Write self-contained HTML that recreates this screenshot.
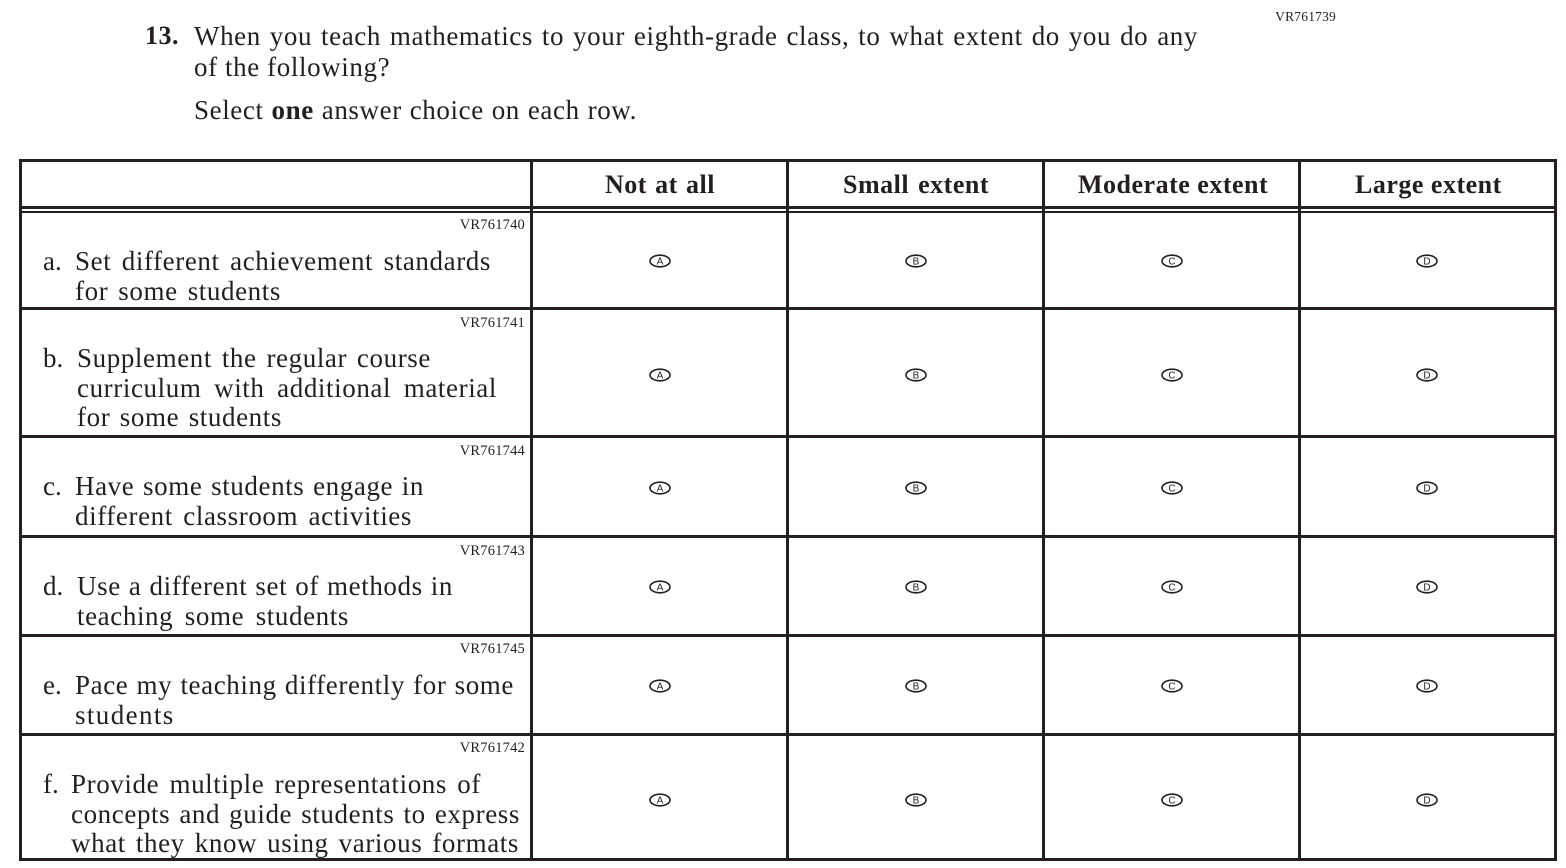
<!DOCTYPE html>
<html>
<head>
<meta charset="utf-8">
<style>
  html, body { margin:0; padding:0; background:#fff; }
  body { width:1566px; height:868px; position:relative; overflow:hidden;
         font-family:"Liberation Serif", serif; color:#231f20; }
  .t { position:absolute; font-size:27px; line-height:30px; letter-spacing:0.6px;
       white-space:nowrap; text-align:justify; text-align-last:justify; }
  .h { position:absolute; font-size:26px; line-height:30px; font-weight:bold; letter-spacing:0.5px;
       white-space:nowrap; text-align:justify; text-align-last:justify; }
  .vr { position:absolute; font-size:14.5px; line-height:16px; letter-spacing:0.2px;
        white-space:nowrap; text-align:right; width:140px; }
  .lbl { position:absolute; font-size:27px; line-height:30px; left:43px; white-space:nowrap; }
  svg { position:absolute; left:0; top:0; }
</style>
</head>
<body>

<svg width="1566" height="868" viewBox="0 0 1566 868">
  <g fill="#231f20">
    <rect x="19" y="159" width="1538" height="3"/>
    <rect x="19" y="206" width="1538" height="3"/>
    <rect x="19" y="211" width="1538" height="2"/>
    <rect x="19" y="307" width="1538" height="3"/>
    <rect x="19" y="435" width="1538" height="3"/>
    <rect x="19" y="535" width="1538" height="3"/>
    <rect x="19" y="634" width="1538" height="3"/>
    <rect x="19" y="733" width="1538" height="3"/>
    <rect x="19" y="858" width="1538" height="3"/>
    <rect x="19" y="159" width="3" height="702"/>
    <rect x="530" y="159" width="3" height="702"/>
    <rect x="786" y="159" width="3" height="702"/>
    <rect x="1042" y="159" width="3" height="702"/>
    <rect x="1298" y="159" width="3" height="702"/>
    <rect x="1554" y="159" width="3" height="702"/>
  </g>
  <g fill="none" stroke="#231f20" stroke-width="1.6">
    <ellipse cx="660" cy="261" rx="10" ry="5.8"/><ellipse cx="916" cy="261" rx="10" ry="5.8"/><ellipse cx="1172" cy="261" rx="10" ry="5.8"/><ellipse cx="1427" cy="261" rx="10" ry="5.8"/>
    <ellipse cx="660" cy="375" rx="10" ry="5.8"/><ellipse cx="916" cy="375" rx="10" ry="5.8"/><ellipse cx="1172" cy="375" rx="10" ry="5.8"/><ellipse cx="1427" cy="375" rx="10" ry="5.8"/>
    <ellipse cx="660" cy="488" rx="10" ry="5.8"/><ellipse cx="916" cy="488" rx="10" ry="5.8"/><ellipse cx="1172" cy="488" rx="10" ry="5.8"/><ellipse cx="1427" cy="488" rx="10" ry="5.8"/>
    <ellipse cx="660" cy="587" rx="10" ry="5.8"/><ellipse cx="916" cy="587" rx="10" ry="5.8"/><ellipse cx="1172" cy="587" rx="10" ry="5.8"/><ellipse cx="1427" cy="587" rx="10" ry="5.8"/>
    <ellipse cx="660" cy="686" rx="10" ry="5.8"/><ellipse cx="916" cy="686" rx="10" ry="5.8"/><ellipse cx="1172" cy="686" rx="10" ry="5.8"/><ellipse cx="1427" cy="686" rx="10" ry="5.8"/>
    <ellipse cx="660" cy="800" rx="10" ry="5.8"/><ellipse cx="916" cy="800" rx="10" ry="5.8"/><ellipse cx="1172" cy="800" rx="10" ry="5.8"/><ellipse cx="1427" cy="800" rx="10" ry="5.8"/>
  </g>
  <g fill="#231f20" font-family="Liberation Sans, sans-serif" font-size="10" text-anchor="middle">
    <text x="660" y="264.6">A</text><text x="916" y="264.6">B</text><text x="1172" y="264.6">C</text><text x="1427" y="264.6">D</text>
    <text x="660" y="378.6">A</text><text x="916" y="378.6">B</text><text x="1172" y="378.6">C</text><text x="1427" y="378.6">D</text>
    <text x="660" y="491.6">A</text><text x="916" y="491.6">B</text><text x="1172" y="491.6">C</text><text x="1427" y="491.6">D</text>
    <text x="660" y="590.6">A</text><text x="916" y="590.6">B</text><text x="1172" y="590.6">C</text><text x="1427" y="590.6">D</text>
    <text x="660" y="689.6">A</text><text x="916" y="689.6">B</text><text x="1172" y="689.6">C</text><text x="1427" y="689.6">D</text>
    <text x="660" y="803.6">A</text><text x="916" y="803.6">B</text><text x="1172" y="803.6">C</text><text x="1427" y="803.6">D</text>
  </g>
</svg>

<!-- Title -->
<div class="vr" style="left:1196px; top:9px; font-size:13.5px;">VR761739</div>
<div class="h" style="left:145px; top:21px; width:35px; letter-spacing:0.5px;">13.</div>
<div class="t" style="left:194px; top:21px; width:1004px;">When you teach mathematics to your eighth-grade class, to what extent do you do any</div>
<div class="t" style="left:194px; top:51.5px; width:194px;">of the following?</div>
<div class="t" style="left:194px; top:94.5px; width:443px;">Select <b>one</b> answer choice on each row.</div>

<!-- Header -->
<div class="h" style="left:605px; top:170px; width:110px;">Not at all</div>
<div class="h" style="left:843px; top:170px; width:146px;">Small extent</div>
<div class="h" style="left:1078px; top:170px; width:189px;">Moderate extent</div>
<div class="h" style="left:1355px; top:170px; width:143px;">Large extent</div>

<!-- Row a -->
<div class="vr" style="left:385px; top:216.5px;">VR761740</div>
<div class="lbl" style="top:246px;">a.</div>
<div class="t" style="left:75px; top:246px; width:416px;">Set different achievement standards</div>
<div class="t" style="left:75px; top:275.5px; width:206px;">for some students</div>

<!-- Row b -->
<div class="vr" style="left:385px; top:314.5px;">VR761741</div>
<div class="lbl" style="top:343px;">b.</div>
<div class="t" style="left:77px; top:343px; width:354px;">Supplement the regular course</div>
<div class="t" style="left:77px; top:372.5px; width:420px;">curriculum with additional material</div>
<div class="t" style="left:77px; top:402px; width:205px;">for some students</div>

<!-- Row c -->
<div class="vr" style="left:385px; top:443px;">VR761744</div>
<div class="lbl" style="top:471px;">c.</div>
<div class="t" style="left:75px; top:471px; width:349px;">Have some students engage in</div>
<div class="t" style="left:75px; top:500.5px; width:337px;">different classroom activities</div>

<!-- Row d -->
<div class="vr" style="left:385px; top:542.5px;">VR761743</div>
<div class="lbl" style="top:571px;">d.</div>
<div class="t" style="left:77px; top:571px; width:376px;">Use a different set of methods in</div>
<div class="t" style="left:77px; top:600.5px; width:272px;">teaching some students</div>

<!-- Row e -->
<div class="vr" style="left:385px; top:641px;">VR761745</div>
<div class="lbl" style="top:670px;">e.</div>
<div class="t" style="left:75px; top:670px; width:439px;">Pace my teaching differently for some</div>
<div class="t" style="left:75px; top:699.5px; letter-spacing:1.4px; text-align:left; text-align-last:left;">students</div>

<!-- Row f -->
<div class="vr" style="left:385px; top:740px;">VR761742</div>
<div class="lbl" style="top:769px;">f.</div>
<div class="t" style="left:71px; top:769px; width:410px;">Provide multiple representations of</div>
<div class="t" style="left:71px; top:798.5px; width:449px;">concepts and guide students to express</div>
<div class="t" style="left:71px; top:828px; width:448px;">what they know using various formats</div>

</body>
</html>
